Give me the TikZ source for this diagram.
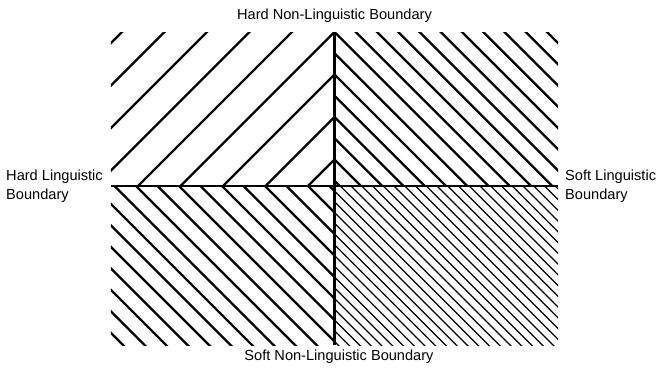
\documentclass[tikz,border=0pt]{standalone}
\usepackage{fontspec}
\setmainfont{Liberation Sans}
\usetikzlibrary{positioning}

\begin{document}
\begin{tikzpicture}[x=1pt, y=1pt,
    bnd/.style={font=\fontsize{14.6}{19.5}\selectfont, inner sep=0pt, align=left},
    hatch/.style={line width=2.2pt},
    fine/.style={line width=1.3pt},
    axis/.style={line width=2.2pt}]
\useasboundingbox (-334.5,-182) rectangle (325.5,186);
\coordinate (o) at (0,0);
\coordinate (w) at (-223.5,0);
\coordinate (e) at (223.5,0);
\coordinate (n) at (0,154);
\coordinate (s) at (0,-159);
\begin{scope}
  \clip (w) rectangle (n);
  \foreach \c in {26.5,69,...,367} \draw[hatch] (-400,-400+\c) -- (400,400+\c);
\end{scope}
\begin{scope}
  \clip (o) rectangle (e |- n);
  \foreach \c in {5.25,26.5,...,377} \draw[hatch] (-400,400+\c) -- (400,-400+\c);
\end{scope}
\begin{scope}
  \clip (w |- s) rectangle (o);
  \foreach \c in {-5,-26.5,...,-383} \draw[hatch] (-400,400+\c) -- (400,-400+\c);
\end{scope}
\begin{scope}
  \clip (o) rectangle (e |- s);
  \foreach \c in {-155.5,-144.75,...,223} \draw[fine] (-400,400+\c) -- (400,-400+\c);
\end{scope}
\draw[axis] (w) -- (e);
\draw[axis] (n) -- (s);
\node[bnd, above=9pt of n] (hnl) {Hard Non-Linguistic Boundary};
\node[bnd, below=5pt of s, xshift=4.5pt] (snl) {Soft Non-Linguistic Boundary};
\node[bnd, left=8pt of w] (hl) {Hard Linguistic\\Boundary};
\node[bnd, right=7pt of e] (sl) {Soft Linguistic\\Boundary};
\end{tikzpicture}
\end{document}
